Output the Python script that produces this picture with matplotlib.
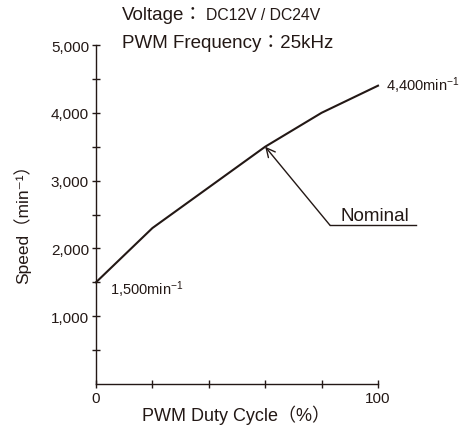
import matplotlib
matplotlib.use("Agg")
import matplotlib.pyplot as plt
from matplotlib.ticker import FixedLocator

plt.rcParams['font.family'] = ['Liberation Sans', 'Noto Sans CJK JP', 'DejaVu Sans']
plt.rcParams['mathtext.default'] = 'regular'

duty = [0, 20, 60, 80, 100]
speed = [1500, 2300, 3500, 4000, 4400]
y_major = [1000, 2000, 3000, 4000, 5000]
y_labels = ["1,000", "2,000", "3,000", "4,000", "5,000"]
y_minor = [500, 1500, 2500, 3500, 4500]
x_major = [0, 100]
x_labels = ["0", "100"]
x_minor = [20, 40, 60, 80]

C = '#231815'
fig = plt.figure(figsize=(4.67, 4.27), dpi=100)
ax = fig.add_axes([96/467, 1-385/427, (378-96)/467, (385-46)/427])
ax.plot(duty, speed, color=C, lw=1.5, clip_on=False, solid_joinstyle='round')
ax.set_xlim(0, 100)
ax.set_ylim(0, 5000)
for s in ['top', 'right']:
    ax.spines[s].set_visible(False)
for s in ['left', 'bottom']:
    ax.spines[s].set_color(C)
    ax.spines[s].set_linewidth(1.0)

ax.yaxis.set_major_locator(FixedLocator(y_major))
ax.set_yticklabels(y_labels)
ax.yaxis.set_minor_locator(FixedLocator(y_minor))
ax.xaxis.set_major_locator(FixedLocator(x_major))
ax.set_xticklabels(x_labels)
ax.xaxis.set_minor_locator(FixedLocator(x_minor))
ax.tick_params(axis='y', which='both', direction='inout', length=6, width=1.0, color=C, labelsize=11, labelcolor=C, pad=2)
ax.tick_params(axis='x', which='both', direction='inout', length=6, width=1.0, color=C, labelsize=11, labelcolor=C, pad=2)

fig.text(236/467, 1-415/427, "PWM Duty Cycle（%）", fontsize=13, color=C, ha='center', va='center')
fig.text(22/467, 1-220/427, "Speed（min⁻¹）", fontsize=12.5, color=C, ha='center', va='center', rotation=90)

fig.text(122/467, 1-15/427, "Voltage：", fontsize=13.5, color=C, va='center', ha='left')
fig.text(206/467, 1-15/427, "DC12V / DC24V", fontsize=11.3, color=C, va='center', ha='left')
fig.text(122/467, 1-43/427, "PWM Frequency：25kHz", fontsize=13.5, color=C, va='center', ha='left')

ax.text(103, 4420, "4,400min$^{-1}$", fontsize=10.5, color=C, va='center', ha='left', clip_on=False)
ax.text(5, 1400, "1,500min$^{-1}$", fontsize=10.5, color=C, va='center', ha='left')

ax.annotate("", xy=(60, 3500), xytext=(83, 2340),
            arrowprops=dict(arrowstyle='->', color=C, lw=1.0, mutation_scale=16, shrinkA=0, shrinkB=0),
            annotation_clip=False)
ax.plot([83, 113.5], [2340, 2340], color=C, lw=1.0, clip_on=False)
ax.text(99, 2490, "Nominal", fontsize=13.5, color=C, ha='center', va='center', clip_on=False)

fig.savefig("out.png", dpi=100)
